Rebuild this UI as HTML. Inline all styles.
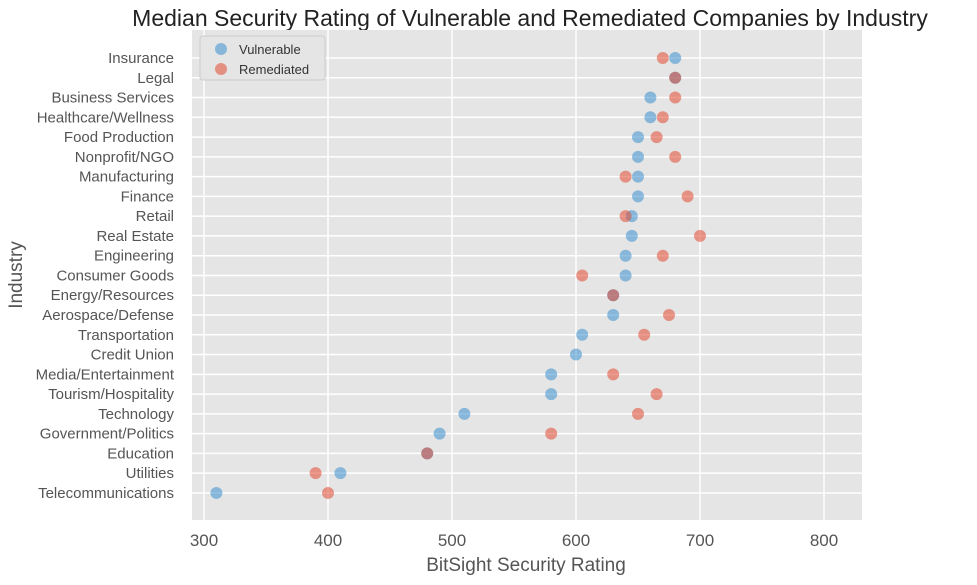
<!DOCTYPE html>
<html><head><meta charset="utf-8">
<style>
body{margin:0;background:#fff;font-family:"Liberation Sans",sans-serif;}
svg text{font-family:"Liberation Sans",sans-serif;}
</style></head>
<body>
<svg id="chart" width="977" height="580" xmlns="http://www.w3.org/2000/svg">
<text x="530" y="26" text-anchor="middle" font-size="23" fill="#222">Median Security Rating of Vulnerable and Remediated Companies by Industry</text>
<rect x="192" y="30" width="670" height="490" fill="#e5e5e5"/>
<g id="grid"></g>
<g id="ylabels"></g>
<g id="xlabels"></g>
<g id="marks"></g>
<text x="526" y="571" text-anchor="middle" font-size="19" fill="#555">BitSight Security Rating</text>
<text x="22" y="275" text-anchor="middle" font-size="19" fill="#555" transform="rotate(-90 22 275)">Industry</text>
<g>
<rect x="200" y="36" width="125" height="44" rx="3" fill="#e5e5e5" stroke="#ccc"/>
<g>
<circle cx="221" cy="49" r="6" fill="#3a8fd0" fill-opacity="0.55"/>
<text x="239" y="54" font-size="13" fill="#333">Vulnerable</text></g>
<g>
<circle cx="221" cy="69" r="6" fill="#E24A33" fill-opacity="0.55"/>
<text x="239" y="74" font-size="13" fill="#333">Remediated</text></g>
</g>
</svg>
<script>
const industries=["Insurance","Legal","Business Services","Healthcare/Wellness","Food Production","Nonprofit/NGO","Manufacturing","Finance","Retail","Real Estate","Engineering","Consumer Goods","Energy/Resources","Aerospace/Defense","Transportation","Credit Union","Media/Entertainment","Tourism/Hospitality","Technology","Government/Politics","Education","Utilities","Telecommunications"];
const vulnerable=[680,680,660,660,650,650,650,650,645,645,640,640,630,630,605,600,580,580,510,490,480,410,310];
const remediated=[670,680,680,670,665,680,640,690,640,700,670,605,630,675,655,null,630,665,650,580,480,390,400];
const xTicks=[300,400,500,600,700,800];
const NS="http://www.w3.org/2000/svg";
function xs(v){return 204+(v-300)*1.24;}
function ys(i){return 58+i*19.77;}
function mk(tag,attrs,parent){const e=document.createElementNS(NS,tag);for(const k in attrs)e.setAttribute(k,attrs[k]);parent.appendChild(e);return e;}
const grid=document.getElementById('grid'),yl=document.getElementById('ylabels'),xl=document.getElementById('xlabels'),marks=document.getElementById('marks');
xTicks.forEach(t=>{
 const l=mk('line',{x1:xs(t),x2:xs(t),y1:30,y2:520,stroke:'#fff','stroke-width':1.5},grid);
 
 
 const tx=mk('text',{x:xs(t),y:546,'text-anchor':'middle','font-size':17,fill:'#555'},xl);
 tx.textContent=t;
 
 
});
industries.forEach((n,i)=>{
 const l=mk('line',{x1:192,x2:862,y1:ys(i),y2:ys(i),stroke:'#fff','stroke-width':1.5},grid);
 
 
 const tx=mk('text',{x:174,y:ys(i)+5,'text-anchor':'end','font-size':15,fill:'#555'},yl);
 tx.textContent=n;
 
 
});
industries.forEach((n,i)=>{
 const c=mk('circle',{cx:xs(vulnerable[i]),cy:ys(i),r:6,fill:'#3a8fd0','fill-opacity':0.55},marks);
 
 
});
industries.forEach((n,i)=>{
 if(remediated[i]==null)return;
 const c=mk('circle',{cx:xs(remediated[i]),cy:ys(i),r:6,fill:'#E24A33','fill-opacity':0.55},marks);
 
 
});
</script>
</body></html>
